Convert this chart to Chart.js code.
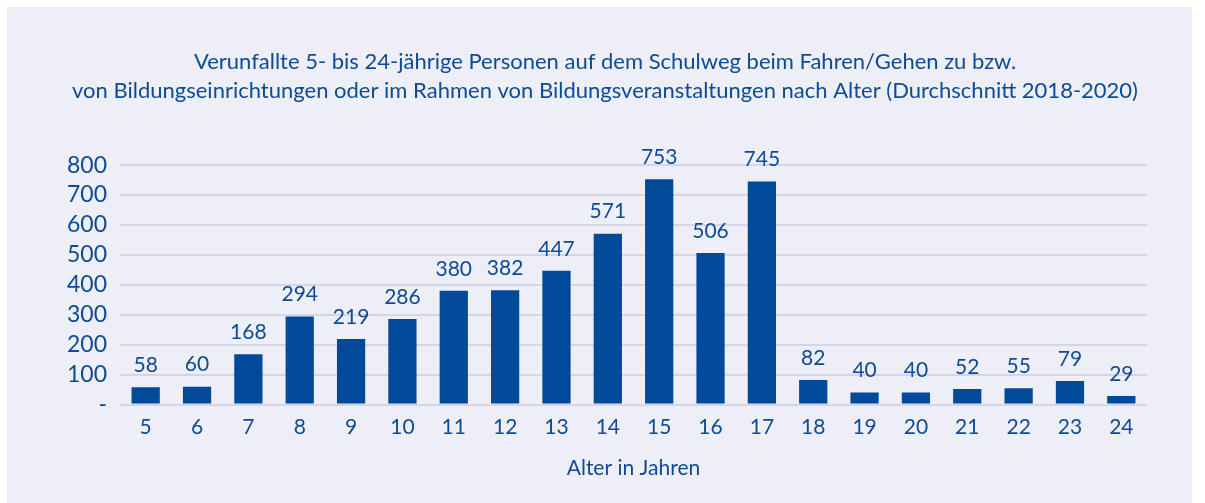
<!DOCTYPE html>
<html lang="de">
<head>
<meta charset="utf-8">
<title>Verunfallte auf dem Schulweg nach Alter</title>
<script src="https://cdn.jsdelivr.net/npm/chart.js@4/dist/chart.umd.min.js"></script>
<style>
  html, body { margin: 0; padding: 0; background: #ffffff; }
  #panel {
    position: absolute;
    left: 7px; top: 7px;
    width: 1185px; height: 496px;
    background: #eeeef7;
  }
</style>
</head>
<body>
<div id="panel"><canvas id="bar-chart"></canvas></div>
<script>
// ages 5..24 and average number of injured persons (2018-2020)
const ages = ['5', '6', '7', '8', '9', '10', '11', '12', '13', '14',
              '15', '16', '17', '18', '19', '20', '21', '22', '23', '24'];
const injured = [58, 60, 168, 294, 219, 286, 380, 382, 447, 571,
                 753, 506, 745, 82, 40, 40, 52, 55, 79, 29];
const yTicks = [0, 100, 200, 300, 400, 500, 600, 700, 800];

const blue = '#004a99';
const textBlue = '#0d4b96';
const gridLilac = '#d5d5ea';
const fontFamily = 'Lato, "Noto Sans", sans-serif';

// writes the value above each bar
const valueLabels = {
  id: 'valueLabels',
  afterDatasetsDraw(chart) {
    const ctx = chart.ctx;
    const meta = chart.getDatasetMeta(0);
    ctx.save();
    ctx.fillStyle = textBlue;
    ctx.font = '21px ' + fontFamily;
    ctx.textAlign = 'center';
    ctx.textBaseline = 'middle';
    meta.data.forEach((bar, i) => {
      ctx.fillText(String(injured[i]), bar.x, bar.y - 22);
    });
    ctx.restore();
  }
};

const barChart = new Chart(document.getElementById('bar-chart'), {
  type: 'bar',
  data: {
    labels: ages,
    datasets: [{
      label: 'Verunfallte',
      data: injured,
      backgroundColor: blue,
      barPercentage: 0.55,
      categoryPercentage: 1.0
    }]
  },
  options: {
    responsive: true,
    maintainAspectRatio: false,
    animation: false,
    // left padding keeps the title centred a bit left of the plot
    layout: { padding: { left: 56, right: 45, top: 0, bottom: 22 } },
    plugins: {
      legend: { display: false },
      tooltip: { enabled: false },
      title: {
        display: true,
        text: [
          'Verunfallte 5- bis 24-jährige Personen auf dem Schulweg beim Fahren/Gehen zu bzw.',
          'von Bildungseinrichtungen oder im Rahmen von Bildungsveranstaltungen nach Alter (Durchschnitt 2018-2020)'
        ],
        color: textBlue,
        font: { family: fontFamily, size: 22, weight: 'normal', lineHeight: 1.32 },
        padding: { top: 40, bottom: 60 }
      }
    },
    scales: {
      x: {
        grid: { display: false, drawTicks: false },
        border: { display: false },
        ticks: {
          color: textBlue,
          font: { family: fontFamily, size: 21 },
          padding: 10,
          maxRotation: 0
        },
        title: {
          display: true,
          text: 'Alter in Jahren',
          color: textBlue,
          font: { family: fontFamily, size: 21 },
          padding: { top: 6, bottom: 0 }
        }
      },
      y: {
        min: 0,
        max: 800,
        afterFit(axis) { axis.width = 57; },
        afterBuildTicks(axis) { axis.ticks = yTicks.map(v => ({ value: v })); },
        grid: { color: gridLilac, lineWidth: 2, drawTicks: false },
        border: { display: false },
        ticks: {
          autoSkip: false,
          color: textBlue,
          font: { family: fontFamily, size: 23 },
          padding: 13,
          callback: v => (v === 0 ? '-' : v)
        }
      }
    }
  },
  plugins: [valueLabels]
});
</script>
</body>
</html>
